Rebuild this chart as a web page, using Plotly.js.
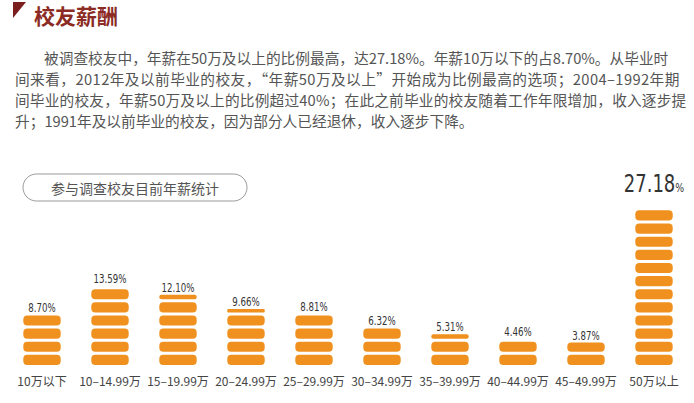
<!DOCTYPE html>
<html>
<head>
<meta charset="utf-8">
<script src="https://cdn.plot.ly/plotly-3.0.1.min.js"></script>
<style>
  html, body { margin: 0; padding: 0; background: #fff; }
  /* value labels in the picture use a narrow face; squeeze them a bit */
  #SalaryPlot .textpoint text {
    transform-box: fill-box; transform-origin: center bottom;
    transform: scaleX(0.8);
  }
  #SalaryPlot .textpoint:last-child text { transform: translateY(-9px) scaleX(0.8); }
</style>
</head>
<body>
<div id="SalaryPlot" style="width:694px;height:403px;"></div>
<script>
// data
var categories = ['10万以下', '10–14.99万', '15–19.99万', '20–24.99万', '25–29.99万',
                  '30–34.99万', '35–39.99万', '40–44.99万', '45–49.99万', '50万以上'];
var shares = [8.70, 13.59, 12.10, 9.66, 8.81, 6.32, 5.31, 4.46, 3.87, 27.18];

var pageTitle = '校友薪酬';
var chartCaption = '参与调查校友目前年薪统计';
var paragraphLines = [
    '被调查校友中，年薪在50万及以上的比例最高，达27.18%。年薪10万以下的占8.70%。从毕业时',
    '间来看，2012年及以前毕业的校友，“年薪50万及以上”开始成为比例最高的选项；2004–1992年期',
    '间毕业的校友，年薪50万及以上的比例超过40%；在此之前毕业的校友随着工作年限增加，收入逐步提',
    '升；1991年及以前毕业的校友，因为部分人已经退休，收入逐步下降。'
];

// page geometry (pixels) -> paper coords
var W = 694, H = 403;
var mL = 8, mR = 6, mT = 191, mB = 38;
var plotW = W - mL - mR, plotH = H - mT - mB;
function xp(x) { return (x - mL) / plotW; }
function yp(y) { return (H - mB - y) / plotH; }
function pt(x, y) { return xp(x) + ',' + yp(y); }

// each bar is a stack of little rounded pills; the tallest has 12
var maxShare = Math.max.apply(null, shares);
var unit = maxShare / 12;
var yTop = 30;
var gap = 3 * yTop / plotH;  // ~3px white gap between pills

var pillX = [], pillBase = [], pillY = [];
shares.forEach(function (v, i) {
    for (var k = 0; k * unit < v; k++) {
        var lo = k * unit;
        var hi = Math.min((k + 1) * unit - gap, v);
        if (hi - lo < 0.15) continue;
        pillX.push(categories[i]); pillBase.push(lo); pillY.push(hi - lo);
    }
});

var orange = '#f0901e';
var pills = {
    type: 'bar', x: pillX, y: pillY, base: pillBase, width: 0.55,
    marker: {color: orange, cornerradius: 4, line: {width: 0}},
    hoverinfo: 'skip'
};

var labelSizes = shares.map(function (v) { return v === maxShare ? 25 : 12; });
var labelText = shares.map(function (v) {
    var s = v.toFixed(2);
    return v === maxShare ? s + '<span style="font-size:13px">%</span>' : s + '%';
});
var labels = {
    type: 'scatter', mode: 'text', x: categories, y: shares,
    text: labelText, textposition: 'top center',
    textfont: {family: 'DejaVu Sans Condensed, DejaVu Sans, sans-serif',
               size: labelSizes, color: '#333'},
    hoverinfo: 'skip', cliponaxis: false
};

var cjk = 'Noto Sans CJK SC, sans-serif';
var annotations = [{
    text: '<b>' + pageTitle + '</b>', x: xp(32), y: yp(15),
    xref: 'paper', yref: 'paper', xanchor: 'left', yanchor: 'middle', showarrow: false,
    font: {family: cjk, size: 21, color: '#8b2b24'}
}, {
    text: chartCaption, x: xp(135), y: yp(187.5),
    xref: 'paper', yref: 'paper', xanchor: 'center', yanchor: 'middle', showarrow: false,
    font: {family: cjk, size: 14, color: '#555'}
}];
// the paragraph is justified: stretch the middle lines a little
var lineY = [57, 78, 99, 120];
var lineSpacing = [0, 0.42, 0.18, 0];
paragraphLines.forEach(function (line, i) {
    annotations.push({
        text: '<span style="letter-spacing:' + lineSpacing[i] + 'px">' + line + '</span>',
        x: xp(i === 0 ? 42 : 13), y: yp(lineY[i]), align: 'left',
        xref: 'paper', yref: 'paper', xanchor: 'left', yanchor: 'middle', showarrow: false,
        font: {family: cjk, size: 14.7, color: '#555'}
    });
});

// rounded caption frame
function pillPath(x0, y0, x1, y1) {
    var r = (y1 - y0) / 2, c = 0.5523 * r, cy = (y0 + y1) / 2;
    return 'M' + pt(x0 + r, y0) + ' L' + pt(x1 - r, y0) +
        ' C' + pt(x1 - r + c, y0) + ' ' + pt(x1, cy - c) + ' ' + pt(x1, cy) +
        ' C' + pt(x1, cy + c) + ' ' + pt(x1 - r + c, y1) + ' ' + pt(x1 - r, y1) +
        ' L' + pt(x0 + r, y1) +
        ' C' + pt(x0 + r - c, y1) + ' ' + pt(x0, cy + c) + ' ' + pt(x0, cy) +
        ' C' + pt(x0, cy - c) + ' ' + pt(x0 + r - c, y0) + ' ' + pt(x0 + r, y0) + ' Z';
}

var shapes = [{
    type: 'path', xref: 'paper', yref: 'paper',
    path: 'M' + pt(13, 2) + ' L' + pt(26, 2) + ' L' + pt(13, 18) + ' Z',
    fillcolor: '#7b1e1e', line: {width: 0}
}, {
    type: 'path', xref: 'paper', yref: 'paper',
    path: pillPath(23, 174, 247, 201),
    line: {color: '#9a9a9a', width: 1}
}];

var layout = {
    width: W, height: H, autosize: false,
    margin: {l: mL, r: mR, t: mT, b: mB, pad: 0},
    paper_bgcolor: '#fff', plot_bgcolor: '#fff',
    showlegend: false, barmode: 'overlay',
    xaxis: {
        type: 'category', range: [-0.5, categories.length - 0.5],
        showgrid: false, zeroline: false, showline: false, ticks: '',
        ticklabelstandoff: 8,
        tickfont: {family: cjk, size: 12, color: '#444'}
    },
    yaxis: {range: [0, yTop], visible: false, fixedrange: true},
    annotations: annotations,
    shapes: shapes
};

Plotly.newPlot('SalaryPlot', [pills, labels], layout, {staticPlot: true, displayModeBar: false});
</script>
</body>
</html>
